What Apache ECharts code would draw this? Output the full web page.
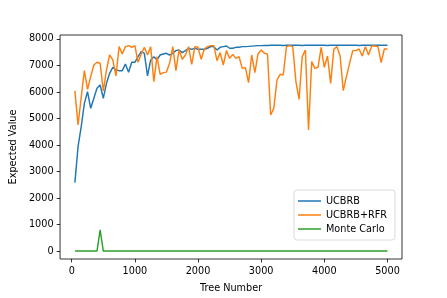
<!DOCTYPE html>
<html>
<head>
<meta charset="utf-8">
<script src="https://cdn.jsdelivr.net/npm/echarts@6/dist/echarts.min.js"></script>
<style>
html,body{margin:0;padding:0;background:#fff;}
#chart{width:447px;height:298px;}
</style>
</head>
<body>
<div id="chart"></div>
<script>
const treeNumbers = [50,100,150,200,250,300,350,400,450,500,550,600,650,700,750,800,850,900,950,1000,
1050,1100,1150,1200,1250,1300,1350,1400,1450,1500,1550,1600,1650,1700,1750,1800,1850,1900,1950,2000,
2050,2100,2150,2200,2250,2300,2350,2400,2450,2500,2550,2600,2650,2700,2750,2800,2850,2900,2950,3000,
3050,3100,3150,3200,3250,3300,3350,3400,3450,3500,3550,3600,3650,3700,3750,3800,3850,3900,3950,4000,
4050,4100,4150,4200,4250,4300,4350,4400,4450,4500,4550,4600,4650,4700,4750,4800,4850,4900,4950,5000];

const ucbrb = [2580,3937,4692,5572,6013,5384,5761,6138,6264,5761,6327,6704,6931,6830,6805,6805,7057,6742,7120,7120,
7333,7523,7460,6604,7208,7333,7208,7396,7434,7460,7396,7460,7560,7585,7485,7560,7650,7610,7650,7610,
7610,7610,7650,7711,7711,7585,7685,7711,7735,7650,7650,7685,7685,7711,7711,7720,7730,7740,7750,7750,
7755,7755,7760,7760,7760,7760,7755,7760,7760,7765,7760,7760,7755,7760,7760,7760,7765,7760,7760,7760,
7755,7760,7760,7760,7760,7765,7760,7760,7760,7760,7755,7760,7760,7760,7760,7760,7760,7765,7760,7760];

const ucbrbRfr = [6040,4755,5800,6805,6101,6579,7019,7120,7082,6038,6830,7400,7208,6604,7711,7434,7711,7750,7685,7750,
7120,7434,7685,7396,7711,6390,7333,6667,6730,6750,7082,7711,6805,7585,7233,7396,7711,7044,7711,7685,
7233,7623,7711,7750,7750,7183,7485,7019,7560,7270,7421,7270,7333,6893,6918,6352,7396,6730,7434,7585,
7460,7434,5132,5384,6453,6667,6642,7711,7750,7711,6390,5723,7333,7585,4566,7145,6893,6931,7685,6931,
7358,6327,7610,7711,7358,6050,6579,7082,7560,7560,7623,7358,7711,7396,7736,7736,7711,7107,7623,7623];

const monteCarlo = [0,0,0,0,0,0,0,0,800,0,0,0,0,0,0,0,0,0,0,0,
0,0,0,0,0,0,0,0,0,0,0,0,0,0,0,0,0,0,0,0,
0,0,0,0,0,0,0,0,0,0,0,0,0,0,0,0,0,0,0,0,
0,0,0,0,0,0,0,0,0,0,0,0,0,0,0,0,0,0,0,0,
0,0,0,0,0,0,0,0,0,0,0,0,0,0,0,0,0,0,0,0];

const xTicks = [0,1000,2000,3000,4000,5000];
const yTicks = [0,1000,2000,3000,4000,5000,6000,7000,8000];
const seriesNames = ['UCBRB','UCBRB+RFR','Monte Carlo'];
const colors = ['#1f77b4','#ff7f0e','#2ca02c'];

const pair = arr => treeNumbers.map((x,i)=>[x,arr[i]]);
const font = '"DejaVu Sans", sans-serif';
const fs = 9.7;

const chart = echarts.init(document.getElementById('chart'), null, {renderer:'canvas'});
chart.setOption({
  animation:false,
  backgroundColor:'#fff',
  color:colors,
  grid:{left:57,right:45,top:35,bottom:39,show:true,borderColor:'#000',borderWidth:0.8,backgroundColor:'transparent'},
  xAxis:{
    type:'value', min:-185, max:5230,
    name:'Tree Number', nameLocation:'middle', nameGap:24,
    nameTextStyle:{fontFamily:font,fontSize:fs,color:'#000'},
    axisLine:{show:false,onZero:false},
    splitLine:{show:false},
    axisTick:{show:true,length:3.4,lineStyle:{color:'#000',width:0.8},customValues:xTicks},
    axisLabel:{fontFamily:font,fontSize:fs,color:'#000',margin:7.5,customValues:xTicks,formatter:v=>String(v)}
  },
  yAxis:{
    type:'value', min:-300, max:8150,
    name:'Expected Value', nameLocation:'middle', nameGap:35.5,
    nameTextStyle:{fontFamily:font,fontSize:fs,color:'#000'},
    axisLine:{show:false,onZero:false},
    splitLine:{show:false},
    axisTick:{show:true,length:3.4,lineStyle:{color:'#000',width:0.8},customValues:yTicks},
    axisLabel:{fontFamily:font,fontSize:fs,color:'#000',margin:6.5,customValues:yTicks,formatter:v=>String(v)}
  },
  legend:{
    orient:'vertical', left:294, top:190,
    data:seriesNames,
    icon:'rect',
    itemWidth:23, itemHeight:1.5, itemGap:4,
    padding:[6,8,6,4],
    borderColor:'#d0d0d0', borderWidth:0.8, borderRadius:3,
    backgroundColor:'rgba(255,255,255,0.8)',
    textStyle:{fontFamily:font,fontSize:fs,color:'#000'}
  },
  series:[
    {name:seriesNames[0],type:'line',data:pair(ucbrb),symbol:'none',lineStyle:{width:1.45,color:colors[0]},itemStyle:{color:colors[0]}},
    {name:seriesNames[1],type:'line',data:pair(ucbrbRfr),symbol:'none',lineStyle:{width:1.45,color:colors[1]},itemStyle:{color:colors[1]}},
    {name:seriesNames[2],type:'line',data:pair(monteCarlo),symbol:'none',lineStyle:{width:1.45,color:colors[2]},itemStyle:{color:colors[2]}}
  ]
});
</script>
</body>
</html>
